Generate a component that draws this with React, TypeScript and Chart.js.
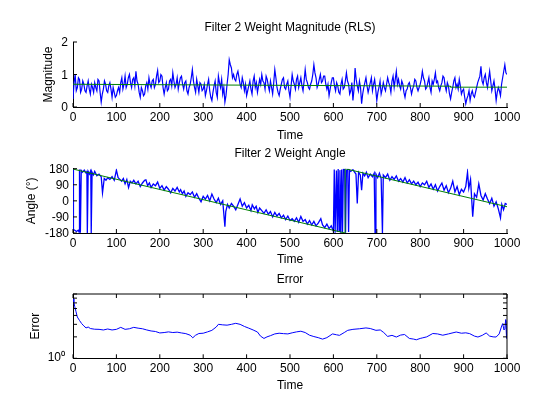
import { useEffect, useRef } from 'react';
import { Chart, registerables } from 'chart.js';

Chart.register(...registerables);

// tick positions
const TIME_TICKS = [0, 100, 200, 300, 400, 500, 600, 700, 800, 900, 1000];
const MAG_TICKS = [0, 1, 2];
const ANGLE_TICKS = [-180, -90, 0, 90, 180];
const ERR_TICKS = [1];
const ERR_MINOR = [2, 3, 4, 5, 6, 7, 8];

// magnitude estimate, one value every MAG_STEP samples (20 values per row = 50 samples)
const MAG_STEP = 2.5;
const MAG_EST = [
  0.25, 0.75, 1.0, 0.5, 0.6, 0.9, 0.85, 0.45, 0.55, 0.8, 0.7, 0.5, 0.45, 0.65, 0.8, 0.55, 0.4, 0.7, 0.6, 0.45,
  0.75, 0.6, 0.5, 0.85, 0.8, 0.45, 0.15, 0.4, 0.55, 0.8, 0.7, 0.5, 0.45, 0.65, 0.75, 0.55, 0.3, 0.6, 0.45, 0.3,
  0.35, 0.5, 0.6, 0.45, 0.75, 0.9, 0.55, 0.7, 0.95, 0.6, 0.7, 0.9, 1.0, 0.75, 0.6, 0.85, 0.9, 0.65, 1.1, 0.8,
  0.7, 0.45, 0.3, 0.6, 0.5, 0.35, 0.4, 0.65, 0.75, 0.55, 0.9, 0.7, 0.6, 0.8, 0.85, 0.6, 0.7, 0.95, 1.12, 0.75,
  0.8, 1.0, 0.95, 0.6, 0.4, 0.6, 0.75, 0.5, 0.55, 0.8, 0.85, 0.65, 1.05, 0.8, 0.6, 0.7, 0.9, 0.55, 0.75, 0.9,
  0.95, 0.7, 0.55, 0.75, 0.8, 0.5, 0.4, 0.6, 0.7, 0.9, 1.15, 0.8, 0.6, 0.45, 0.85, 0.65, 0.45, 0.75, 0.7, 0.5,
  0.55, 0.7, 0.35, 0.5, 0.7, 0.85, 0.5, 0.3, 0.2, 0.45, 0.65, 0.8, 0.45, 0.3, 0.95, 0.75, 0.6, 0.85, 0.4, 0.6,
  0.15, 0.35, 0.7, 1.0, 1.45, 1.3, 1.2, 0.9, 1.0, 0.85, 0.8, 1.0, 1.1, 0.9, 0.7, 0.6, 0.9, 0.75, 0.5, 0.7,
  0.35, 0.5, 0.65, 0.8, 0.55, 0.4, 0.8, 0.95, 0.6, 0.75, 0.45, 0.65, 0.85, 0.7, 1.0, 0.8, 0.75, 0.55, 0.95, 0.85,
  0.65, 0.5, 0.8, 0.6, 0.4, 0.75, 1.15, 0.9, 0.6, 0.45, 0.35, 0.55, 0.7, 0.85, 0.9, 0.6, 0.55, 0.7, 0.8, 0.5,
  0.3, 0.65, 1.0, 0.8, 0.7, 0.55, 0.85, 0.95, 0.6, 0.75, 0.9, 0.65, 0.5, 0.8, 1.15, 0.85, 0.75, 0.6, 0.55, 0.7,
  0.8, 1.0, 1.3, 1.05, 0.9, 0.6, 0.7, 0.85, 1.0, 0.75, 0.8, 0.95, 0.95, 0.7, 0.55, 0.7, 0.35, 0.55, 0.75, 0.9,
  0.9, 0.65, 0.5, 0.75, 0.65, 0.45, 0.4, 0.7, 0.85, 0.55, 0.6, 0.8, 1.05, 0.8, 0.7, 0.4, 0.5, 0.75, 0.2, 0.55,
  1.2, 0.85, 0.65, 0.5, 0.8, 0.6, 0.1, 0.4, 0.6, 0.75, 0.9, 0.65, 0.45, 0.6, 0.75, 0.9, 0.5, 0.7, 0.85, 0.55,
  0.2, 0.45, 0.6, 0.8, 0.4, 0.55, 0.75, 0.6, 0.5, 0.7, 0.9, 0.75, 0.65, 0.45, 0.8, 0.95, 0.6, 0.85, 1.1, 0.7,
  0.85, 0.65, 0.55, 0.8, 0.7, 0.45, 0.3, 0.5, 0.55, 0.7, 0.75, 0.6, 0.4, 0.55, 0.65, 0.85, 0.8, 0.6, 0.5, 0.6,
  0.7, 0.85, 1.1, 0.9, 0.8, 0.55, 0.6, 0.75, 0.9, 0.6, 0.45, 0.8, 0.7, 0.85, 1.05, 0.75, 0.8, 0.6, 0.5, 0.65,
  0.75, 0.95, 0.9, 0.65, 0.5, 0.75, 0.65, 0.4, 0.25, 0.45, 0.6, 0.8, 0.9, 0.6, 0.7, 0.55, 0.85, 0.65, 0.4, 0.5,
  0.55, 0.3, 0.1, 0.25, 0.35, 0.5, 0.2, 0.4, 0.5, 0.35, 0.3, 0.45, 0.6, 0.75, 0.85, 0.95, 1.25, 0.8, 0.7, 0.9,
  1.0, 0.75, 0.6, 0.85, 1.1, 0.8, 0.5, 0.65, 0.8, 0.55, 0.2, 0.45, 0.6, 0.5, 0.35, 0.7, 0.9, 1.1, 1.3, 1.05,
  1.0,
];
const MAG_TRUE: [number, number][] = [[0, 0.7], [870, 0.64], [870, 0.61], [1000, 0.61]];

// angle estimate [time, degrees]
const ANGLE_EST: [number, number][] = [
  [0, 178], [1, -160], [4, -165], [8, -172], [12, -165], [14, -175], [15, 175], [17, -178],
  [19, 170], [22, 160], [26, 172], [30, 155], [32, 168], [33, -180], [35, 165], [38, 150],
  [41, 170], [42, -180], [44, 160], [47, 145], [50, 165], [55, 140], [60, 150], [65, 135],
  [68, 45], [72, 125], [76, 115], [80, 130], [85, 120], [90, 135], [95, 115], [100, 172],
  [104, 130], [108, 120], [112, 110], [116, 125], [120, 95], [124, 120], [128, 75], [132, 110],
  [136, 100], [140, 115], [145, 95], [150, 110], [155, 80], [160, 100], [165, 115], [168, 118],
  [172, 85], [176, 100], [180, 75], [185, 95], [190, 85], [195, 105], [200, 70], [205, 85],
  [210, 60], [215, 80], [220, 65], [225, 45], [230, 70], [235, 55], [240, 75], [245, 50],
  [248, 62], [252, 40], [256, 55], [260, 25], [265, 45], [270, 35], [275, 50], [280, 20],
  [285, 40], [290, 15], [295, -5], [300, 25], [305, 10], [310, 30], [315, 0], [320, 38],
  [325, 10], [330, -10], [335, 15], [340, -20], [345, 0], [350, -145], [352, -60], [356, -20],
  [360, -40], [365, -15], [370, -30], [375, -50], [380, -20], [385, 10], [390, -30], [395, -10],
  [400, -40], [405, -25], [410, -55], [413, -22], [418, -45], [422, -30], [426, -65], [430, -40],
  [435, -55], [440, -70], [445, -50], [450, -75], [455, -60], [460, -90], [465, -65], [470, -85],
  [475, -70], [480, -95], [485, -80], [490, -105], [495, -85], [500, -110], [505, -100], [510, -115],
  [515, -95], [520, -120], [525, -88], [530, -115], [535, -105], [540, -130], [545, -110], [550, -135],
  [555, -115], [560, -140], [565, -125], [571, -100], [575, -135], [580, -150], [585, -130], [590, -155],
  [595, -140], [600, -170], [602, 175], [604, -178], [607, 170], [609, -175], [611, 178], [613, -170],
  [615, 172], [617, -178], [619, 175], [621, -176], [623, 178], [626, 178], [628, -178], [630, 170],
  [633, 176], [635, -175], [637, 172], [640, 165], [645, 175], [648, 164], [652, 150], [655, -15],
  [658, 160], [662, 145], [665, 60], [668, 155], [672, 140], [676, 160], [680, 130], [685, 150],
  [690, 135], [694, 155], [696, -180], [698, 150], [702, 130], [706, 155], [710, 125], [713, -180],
  [715, 145], [720, 130], [725, 150], [730, 115], [735, 135], [740, 120], [745, 140], [750, 110],
  [755, 125], [760, 105], [765, 130], [770, 100], [775, 118], [780, 95], [785, 110], [790, 90],
  [795, 105], [800, 80], [805, 100], [810, 90], [815, 110], [820, 75], [825, 95], [830, 65],
  [835, 90], [840, 55], [845, 80], [850, 100], [855, 60], [860, 85], [865, 45], [870, 70],
  [875, 110], [880, 50], [885, 80], [890, 35], [895, 65], [900, 50], [905, 80], [909, 160],
  [912, 70], [916, 120], [921, -89], [925, 40], [930, 20], [935, 95], [940, 30], [945, 5],
  [950, 40], [955, 10], [960, -15], [965, 15], [970, -30], [975, -5], [980, -45], [985, -95],
  [988, -20], [992, -50], [996, -15], [1000, -20],
];
const ANGLE_TRUE: [number, number][] = [[0, 178], [627, -180], [627, 180], [1000, -33]];

// error [time, value]
const ERROR: [number, number][] = [
  [0, 6.85], [2, 6.2], [4, 5.3], [7, 4.5], [10, 3.8], [15, 3.4], [20, 3.07], [25, 2.85],
  [30, 2.67], [35, 2.75], [40, 2.62], [50, 2.56], [60, 2.55], [70, 2.5], [80, 2.58], [90, 2.5],
  [100, 2.55], [110, 2.72], [120, 2.55], [130, 2.6], [140, 2.72], [150, 2.65], [160, 2.6], [170, 2.5],
  [180, 2.42], [190, 2.38], [200, 2.27], [210, 2.3], [220, 2.35], [230, 2.3], [240, 2.33], [250, 2.27],
  [260, 2.22], [270, 2.11], [276, 1.94], [282, 2.1], [290, 2.23], [300, 2.25], [310, 2.35], [320, 2.47],
  [330, 2.75], [335, 3.0], [345, 2.95], [355, 2.92], [365, 3.0], [375, 3.1], [385, 3.0], [395, 2.8],
  [405, 2.65], [415, 2.5], [425, 2.34], [432, 2.05], [440, 1.9], [447, 2.0], [455, 2.08], [465, 2.2],
  [475, 2.25], [485, 2.22], [495, 2.2], [505, 2.28], [515, 2.35], [525, 2.4], [535, 2.3], [545, 2.11],
  [555, 2.02], [565, 1.95], [575, 1.86], [585, 1.95], [598, 2.2], [607, 2.14], [614, 2.1], [625, 2.3],
  [633, 2.47], [645, 2.55], [660, 2.6], [675, 2.67], [685, 2.62], [698, 2.47], [708, 2.5], [716, 2.3],
  [725, 2.03], [735, 2.1], [745, 1.99], [755, 2.12], [764, 2.16], [775, 1.9], [785, 1.86], [791, 1.82],
  [800, 1.9], [806, 1.94], [815, 2.0], [829, 2.23], [840, 2.2], [852, 2.11], [865, 2.2], [883, 2.34],
  [895, 2.25], [905, 2.28], [914, 2.22], [925, 2.05], [933, 1.99], [943, 2.1], [952, 2.27], [960, 2.05],
  [968, 2.0], [975, 1.99], [982, 2.2], [987, 2.75], [990, 3.07], [993, 2.5], [995, 2.6], [997, 3.5],
  [999, 1.9], [1000, 3.4],
];

const FONT = { family: '"Liberation Sans", Arial, sans-serif', size: 12, weight: 'normal' as const, lineHeight: 1.2 };
const BLUE = '#0000ff';
const GREEN = '#008000';

const pts = (rows: [number, number][]) => rows.map(([x, y]) => ({ x, y }));

// matlab-ish ticks pointing into the plot, plus optional box
const inwardTicks = {
  id: 'inwardTicks',
  afterDatasetsDraw(chart: any, _args: any, opts: any) {
    const { ctx, chartArea: a } = chart;
    const xs = chart.scales.x, ys = chart.scales.y;
    const len = 4;
    ctx.save();
    ctx.strokeStyle = '#000';
    ctx.lineWidth = 1;
    ctx.beginPath();
    for (const t of TIME_TICKS) {
      const px = xs.getPixelForValue(t);
      ctx.moveTo(px, a.bottom); ctx.lineTo(px, a.bottom - len);
      if (opts.box) { ctx.moveTo(px, a.top); ctx.lineTo(px, a.top + len); }
    }
    for (const v of [...opts.yTicks, ...(opts.minor || [])]) {
      const py = ys.getPixelForValue(v);
      ctx.moveTo(a.left, py); ctx.lineTo(a.left + len, py);
      if (opts.box) { ctx.moveTo(a.right, py); ctx.lineTo(a.right - len, py); }
    }
    if (opts.box) {
      ctx.moveTo(a.left, a.top); ctx.lineTo(a.right, a.top); ctx.lineTo(a.right, a.bottom);
    }
    ctx.stroke();
    ctx.restore();
  },
};

interface PanelCfg {
  title: string;
  titleGap: number;
  padTop: number;
  padBottom: number;
  xHeight: number;
  yLabel: string;
  yLabelPad: number;
  yTickPad: number;
  yLabelOffset: number;
  y: any;
  yTicks: number[];
  minor?: number[];
  box?: boolean;
  datasets: any[];
}

function Panel({ cfg }: { cfg: PanelCfg }) {
  const canvasRef = useRef<HTMLCanvasElement>(null);

  useEffect(() => {
    if (!canvasRef.current) return;
    const chart = new Chart(canvasRef.current, {
      type: 'line',
      data: { datasets: cfg.datasets },
      plugins: [inwardTicks],
      options: {
        responsive: false,
        animation: false,
        events: [],
        layout: { padding: { left: 0, right: 53, top: cfg.padTop, bottom: cfg.padBottom } },
        elements: { point: { radius: 0 }, line: { tension: 0, borderWidth: 1 } },
        plugins: {
          legend: { display: false },
          tooltip: { enabled: false },
          title: {
            display: true,
            text: cfg.title,
            color: '#000',
            font: FONT,
            fullSize: false,
            padding: { top: 0, bottom: cfg.titleGap },
          },
          inwardTicks: { box: !!cfg.box, yTicks: cfg.yTicks, minor: cfg.minor },
        } as any,
        scales: {
          x: {
            type: 'linear',
            min: 0,
            max: 1000,
            afterBuildTicks: (s: any) => { s.ticks = TIME_TICKS.map(value => ({ value })); },
            afterFit: (s: any) => { s.height = cfg.xHeight; },
            grid: { display: false, drawTicks: false },
            border: { display: true, color: '#000', width: 1 },
            ticks: {
              color: '#000', font: FONT, padding: 3, maxRotation: 0, autoSkip: false,
              callback: (v: number) => String(v),
            },
            title: { display: true, text: 'Time', color: '#000', font: FONT, padding: { top: 0, bottom: 0 } },
          },
          y: {
            ...cfg.y,
            afterBuildTicks: (s: any) => { s.ticks = cfg.yTicks.map(value => ({ value })); },
            afterFit: (s: any) => { s.width = 73; },
            grid: { display: false, drawTicks: false },
            border: { display: true, color: '#000', width: 1 },
            ticks: {
              color: '#000',
              font: FONT,
              padding: cfg.yTickPad,
              labelOffset: cfg.yLabelOffset,
              autoSkip: false,
              callback: (v: number) => String(v),
              ...(cfg.y.ticks || {}),
            },
            title: {
              display: true,
              text: cfg.yLabel,
              color: '#000',
              font: FONT,
              padding: { top: cfg.yLabelPad, bottom: 0 },
            },
          },
        },
      } as any,
    });
    return () => { chart.destroy(); };
  }, [cfg]);

  return (
    <canvas
      ref={canvasRef}
      width={560}
      height={420}
      style={{ position: 'absolute', left: 0, top: 0, width: 560, height: 420 }}
    />
  );
}

const MAG_PANEL: PanelCfg = {
  title: 'Filter 2 Weight Magnitude (RLS)',
  titleGap: 7.3,
  padTop: 20.3,
  padBottom: 277.3,
  xHeight: 35.7,
  yLabel: 'Magnitude',
  yLabelPad: 41.3,
  yTickPad: 5,
  yLabelOffset: 1,
  y: { type: 'linear', min: 0, max: 2 },
  yTicks: MAG_TICKS,
  datasets: [
    { data: pts(MAG_TRUE), borderColor: GREEN, order: 0 },
    { data: MAG_EST.map((y, i) => ({ x: i * MAG_STEP, y })), borderColor: BLUE, borderWidth: 1.2, order: 1 },
  ],
};

const ANGLE_PANEL: PanelCfg = {
  title: 'Filter 2 Weight Angle',
  titleGap: 7.4,
  padTop: 146.9,
  padBottom: 153,
  xHeight: 34,
  yLabel: 'Angle (°)',
  yLabelPad: 24.6,
  yTickPad: 4,
  yLabelOffset: 0.5,
  y: { type: 'linear', min: -180, max: 180 },
  yTicks: ANGLE_TICKS,
  datasets: [
    { data: pts(ANGLE_TRUE), borderColor: GREEN, order: 0 },
    { data: pts(ANGLE_EST), borderColor: BLUE, borderWidth: 1.3, order: 1 },
  ],
};

const ERROR_PANEL: PanelCfg = {
  title: 'Error',
  titleGap: 7,
  padTop: 272.6,
  padBottom: 27,
  xHeight: 34.7,
  yLabel: 'Error',
  yLabelPad: 28.6,
  yTickPad: 8,
  yLabelOffset: -1,
  y: { type: 'logarithmic', min: 1, max: 8, ticks: { callback: (v: number) => (v === 1 ? '10⁰' : '') } },
  yTicks: ERR_TICKS,
  minor: ERR_MINOR,
  box: true,
  datasets: [{ data: pts(ERROR), borderColor: BLUE }],
};

export default function App() {
  return (
    <div style={{ position: 'fixed', left: 0, top: 0, width: 560, height: 420, background: '#fff' }}>
      <Panel cfg={MAG_PANEL} />
      <Panel cfg={ANGLE_PANEL} />
      <Panel cfg={ERROR_PANEL} />
    </div>
  );
}
